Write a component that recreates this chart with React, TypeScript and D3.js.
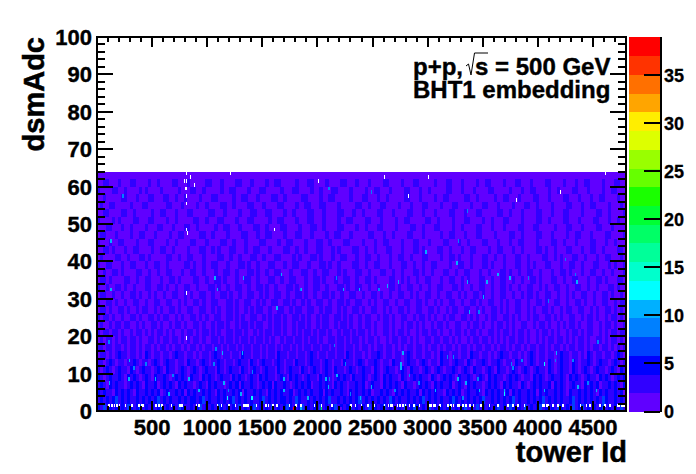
import React from "react";
import * as d3 from "d3";

const xTicks = [500, 1000, 1500, 2000, 2500, 3000, 3500, 4000, 4500];
const yTicks = [0, 10, 20, 30, 40, 50, 60, 70, 80, 90, 100];
const zTicks = [0, 5, 10, 15, 20, 25, 30, 35];
const palette = ["#6000ff", "#3000ff", "#0000ff", "#0040ff", "#0080ff", "#00b0ff", "#00ffff", "#00ffcc", "#00ff99", "#00ff66", "#00ff33", "#1aff00", "#66ff00", "#99ff00", "#ddff00", "#ffee00", "#ffa500", "#ff7000", "#ff3300", "#ff0000"];

// Estimated colour level per narrow tower block x 2-adc band, adc 62-63 at the top, adc 2-3 at the bottom
const blocks = [
"00110001000110000100100001100010000011000100001100010000100110000010001100001000011000100010000110000100011000001000110001000010011000010001100010000110000100010011000010001100001000110001",
"10000110010000101000010000010001100100000100110000100011000001000110000100100011000010000100110001000011000100100000110001000100001100000100010011000010010000110001000010011000100001000110",
"00100000110001000110001100100100001000110000010011000100001100100000110000100110000010001100010010000011000100001001100000110010000010011000100001100010000110001000100110000100001100010000",
"01001100000100011000000110001000010010000110010000110001000011000010011000110000100000110010001100001000100011000010001100001000110001000010001100100001000011000100110000100010000110001001",
"00110000110010000010011000100011000001100010000100011000110000100100001100010000110001001000011000100001100010001000011000100011000001100100010000110001000110000100001100100001100010000110",
"10000101000011000110000100100000110010001100001000110000010011000010001100010000100110000110001000010011000001100100001000110000100100011000010000110010000110001000011000100100001100001000",
"00011000100100001000110001000110010000010011000100001100100001100001000110010000110000100100011000010000110010001100001001000011000100010000110001100000100011000100001100010000100110010000",
"01100010000100110001000010011000001100100001000011000100110000100011000100001001100010000011000100100001100010000010011000100011000010000110010000110001000010011000100001100001001000011000",
"10001001100001000110000100100001100010000110010001000011000010011000010001100100001100001000100110000100011000100001100010010000110001000100110000100001100100010000110001001000011000100110",
"00110100010011000010011001000010001100101000110001001100010000110010010001100010100001100100100011000100011010000110010001001100001001100010010000110100100011000100110010000110010001100100",
"01000011001000110100000110010011000100001100100100011001000110000101000110100010011000100110010001001100100011000010011010001000110010010001100100001100101000110010001001100010010011001000",
"10011000100110001001100100000110100100110001000110100100011000100110001000110100100001100100110001000110010010011000010011001000110100010001100101000110001001100100011000101001100100010011",
"00100110100001100100100110001001100100010011001000110100100110001000110010011000101000110010001100100100011010010001100100110001001000110100100110010001001101000100110010010001100100110100",
"01101000011001001100010011010000110010011010001001100100011001001100010011010001001100100110100001100101001001100010011001010001100100110010010011010001100100110001001101000110010011000110",
"10010011010010001100110100100110010001101001001100100110100100011010010011001000110100110010010001101001100100100110001101001001100100110100100110010100110010011001001000110100110010011001",
"01100100100110100101001001100101001100100110100100110010100110010011010010011010010011001001101001001100101001100100110010100110100100110010010110100110010010100110010011010010100110010100",
"10011010010011001001100110010100110100110001101001100101001100110100101001100100110100110010100110010011001101001010011001001101001100101001100100110100110010011010010011001011001001101001",
"01101001101001011001010011010011001100101001101001010110010011001011001100101100101001101001100101001101001100110100101100110010100110101001100101001101001011001100101001101010011001010110",
"10110100100110100110101100101001101010011001101010011001010110100110101001011001101010010110010110100110010110101001011001101010010110011010100101100110101001100101101001011010011010100101",
"01001011011001010011010010110100110100101101001011010110010110100101101001011001011010010110100110100101101010010110100110010110100101101010011001011010010101101001100101101001011010010110",
"10110110100101101010110101001011010110101001101101001010110110100101011010110100101101011010100110101101001011011010010110101101001101011010110100101101010010110101100101011011010010110101",
"01011010110110100110101101101010110100110101101011010110101001011011010110100110110101101011010010110110101001101101101010010110110101010110110100101011011010101101001101011010110101101010",
"11011011010110101101011010110101101011011010110101101101011010110101011011011010110110101101011011010101101101011010110101101011011010110101101011011010110101101101011011010101101011011010",
"01101012110110102101101101211011010110121011011021101101011021101101101210110110110210110101121011011012101101101021101101102110110101211011010121011011012110110102101101101210110110211011",
"11012101101121011012101211011021101210112101101211021012110121011021101211012101102110121011210110211012110121011021101211021011210112101102110121011021012110210112101211012101121011021012",
"10121012110210121101210211012101210121102101211021012101211021012110210121012102110121012110210121101210211012101210112101210211012102110121012101211021012110210121012110121021101210211012",
"21012112102121012102112101212102110212101211021210121021211012102121012110212101212102112101210212110210121211021012121021121012102121101212101102121012112102121012110212101212102110212101",
"12102121101212102112012121021211012102121101212021121012120211210121212011212102121011212012110212121021101212102121120121021211012121021211021012121120212101211021212011212102121101202112",
"21211021212102112121201211212021211212102121121202112121021212112012121211202121121021212120112121021212112021212110212120121121021212112021211212021211212102112121210212112120212112102121",
"12121231212112121212312121121212212312112121231212121123121212212132112121212311212121231212121213212112121231212121123212121212311212121231211212123121212112312121212132112121212312112121",
"21312121213212312121231212132112123121213212121312123121213121232112312121312123121231212131212312112131232121312121231212312131212123121321213121231212132121312312121231212131212321213121"
].map((r) => r.slice(0, 176));

// Individually read cells: tower, adc, colour level
const hotTowers = [288, 327, 106, 282, 439, 524, 682, 827, 645, 918, 1070, 1130, 1312, 1055, 1145, 1176, 1185, 1297, 1397, 1403, 100, 1628, 1846, 2230, 2376, 2549, 1688, 1688, 2073, 2103, 2170, 2149, 2094, 2246, 2482, 2294, 2385, 2770, 2749, 2749, 2830, 2915, 3064, 3173, 1906, 2694, 3500, 3373, 3458, 4091, 4161, 4055, 4055, 4312, 3848, 3752, 3267, 3449, 3691, 3691, 3342, 3464, 4358, 4524, 4539, 3312, 4449, 3767, 3227, 4154, 121, 121, 1064, 1085, 1321, 1667, 1848, 2166, 2230, 2373, 227, 2100, 2485, 2627, 2548, 2727, 2976, 3354, 3530, 3630, 3742, 3258, 3909, 4333, 4348, 3354, 3273, 4242];
const hotAdc = [13, 11, 7, 8, 12, 8, 9, 8, 4, 5, 16, 15, 15, 12, 7, 3, 5, 4, 3, 10, 18, 27, 32, 32, 32, 32, 8, 5, 8, 8, 9, 17, 6, 12, 6, 4, 3, 15, 12, 11, 9, 7, 5, 14, 3, 5, 30, 26, 26, 29, 15, 12, 5, 13, 13, 12, 8, 8, 4, 5, 7, 5, 6, 5, 18, 3, 7, 11, 14, 13, 45, 32, 35, 32, 35, 36, 32, 35, 32, 32, 57, 59, 58, 33, 32, 34, 42, 34, 34, 36, 35, 39, 35, 36, 34, 53, 45, 40];
const hotLevel = [5, 4, 5, 5, 4, 5, 4, 5, 5, 5, 4, 5, 5, 4, 5, 6, 4, 5, 6, 4, 4, 5, 4, 4, 4, 4, 5, 5, 5, 4, 5, 4, 5, 4, 5, 4, 5, 5, 5, 5, 4, 4, 5, 4, 5, 4, 5, 5, 4, 4, 5, 6, 5, 4, 4, 4, 5, 4, 6, 5, 5, 5, 5, 5, 4, 4, 4, 4, 4, 4, 5, 5, 5, 5, 5, 5, 5, 4, 5, 5, 4, 4, 4, 5, 4, 5, 5, 5, 5, 5, 5, 5, 4, 4, 5, 4, 4, 4];

// Empty cells above the bottom rows
const holeTowers = [812, 1203, 848, 785, 812, 2003, 876, 800, 812, 812, 812, 812, 1606, 821, 812, 812, 2603, 3003, 4612, 2824, 4197, 3803];
const holeAdc = [63, 63, 62, 61, 61, 61, 60, 59, 59, 57, 55, 48, 48, 47, 31, 19, 62, 62, 63, 57, 58, 56];

// Empty towers in the adc 1 row
const adcOneGaps = [103, 127, 151, 176, 197, 251, 312, 373, 397, 412, 530, 554, 585, 670, 742, 754, 766, 894, 918, 1085, 1124, 1191, 1251, 1327, 1339, 1351, 1363, 1439, 1524, 1548, 1588, 1628, 1740, 1800, 1846, 1967, 2028, 2127, 2300, 2337, 2391, 2452, 2512, 2603, 2640, 2655, 2670, 2718, 2740, 2770, 2791, 2830, 2867, 2921, 3000, 3015, 3030, 3045, 3060, 3103, 3179, 3206, 3227, 3270, 3282, 3312, 3343, 3379, 3409, 3479, 3555, 3630, 3721, 3767, 3812, 3873, 4039, 4054, 4070, 4085, 4130, 4176, 4221, 4379, 4433, 4464, 4555, 4600, 4646, 4721, 4736, 4751, 4766, 4781];

// Rare filled cells in the adc 0 row
const adcZeroTowers = [1775, 1846, 2028, 2209, 2997];
const adcZeroLevels = [19, 5, 10, 0, 3];

const x = d3.scaleLinear().domain([0, 4800]).range([97, 626]);
const y = d3.scaleLinear().domain([0, 100]).range([411, 37]);
const z = d3.scaleLinear().domain([0, 39]).range([411.5, 37]);
const blockTowers = 4800 / 176;
const FONT = "'Liberation Sans', Arial, sans-serif";
const xMinor = d3.range(0, 4800, 100);
const yMinor = d3.range(0, 100, 2);

export default function App() {
  return (
    <svg width={696} height={474} style={{ position: "absolute", left: 0, top: 0, background: "#fff" }} fontFamily={FONT} fontWeight="bold" fill="#000">
      <g shapeRendering="crispEdges">
        <rect x={x(0) + 1} y={y(64)} width={x(4800) - x(0) - 2} height={y(1) - y(64)} fill={palette[0]} />
        {blocks.map((row, r) =>
          row.split("").map((c, i) =>
            c === "0" ? null : (
              <rect key={`${r}-${i}`} x={x(i * blockTowers)} y={y(64 - (r + 1) * 2)} width={x(blockTowers) - x(0) + 0.3} height={y(0) - y(2)} fill={palette[+c]} />
            )
          )
        )}
        {hotTowers.map((t, i) => (
          <rect key={`h${i}`} x={x(t)} y={y(hotAdc[i] + 1)} width={1.6} height={y(0) - y(1)} fill={palette[hotLevel[i]]} />
        ))}
        {holeTowers.map((t, i) => (
          <rect key={`w${i}`} x={x(t)} y={y(holeAdc[i] + 1)} width={1} height={y(0) - y(1)} fill="#fff" />
        ))}
        {adcOneGaps.map((t) => (
          <rect key={`g${t}`} x={x(t)} y={y(2)} width={x(14) - x(0)} height={y(0) - y(1)} fill="#fff" />
        ))}
        {adcZeroTowers.map((t, i) => (
          <rect key={`a${t}`} x={x(t)} y={y(1)} width={1.2} height={y(0) - y(1)} fill={palette[adcZeroLevels[i]]} />
        ))}
        {palette.map((c, i) => (
          <rect key={c} x={629} y={z(((i + 1) * 39) / 20)} width={31} height={z(0) - z(39 / 20) + 0.5} fill={c} />
        ))}
      </g>

      <g stroke="#000" strokeWidth={2} shapeRendering="crispEdges">
        <rect x={x(0)} y={y(100)} width={x(4800) - x(0)} height={y(0) - y(100)} fill="none" />
        {xMinor.map((t) => {
          const len = t % 500 === 0 ? 10 : 5;
          return (
            <g key={t}>
              <line x1={x(t)} x2={x(t)} y1={y(0)} y2={y(0) - len} />
              <line x1={x(t)} x2={x(t)} y1={y(100)} y2={y(100) + len} />
            </g>
          );
        })}
        {yMinor.map((t) => {
          const len = t % 10 === 0 ? 16 : 8;
          return (
            <g key={t}>
              <line x1={x(0)} x2={x(0) + len} y1={y(t)} y2={y(t)} />
              <line x1={x(4800)} x2={x(4800) - len} y1={y(t)} y2={y(t)} />
            </g>
          );
        })}
        <line x1={660.5} x2={660.5} y1={37} y2={412} />
        {zTicks.map((t) => (
          <line key={t} x1={644} x2={660} y1={z(t)} y2={z(t)} />
        ))}
      </g>

      <g fontSize={22} stroke="#000" strokeWidth={0.4}>
        {xTicks.map((t) => (
          <text key={t} x={x(t)} y={435} textAnchor="middle">{t}</text>
        ))}
        {yTicks.map((t) => (
          <text key={t} x={92} y={y(t) + 8} textAnchor="end">{t}</text>
        ))}
      </g>
      <g fontSize={18} stroke="#000" strokeWidth={0.3}>
        {zTicks.map((t) => (
          <text key={t} x={664} y={z(t) + 6.5}>{t}</text>
        ))}
      </g>

      <g stroke="#000" strokeWidth={0.5}>
        <text x={627} y={462} fontSize={29} textAnchor="end">tower Id</text>
        <text transform="translate(44,37) rotate(-90)" fontSize={29} textAnchor="end">dsmAdc</text>
      </g>

      <g fontSize={24} stroke="#000" strokeWidth={0.4}>
        <text x={413} y={75}>p+p,</text>
        <text x={475} y={75}>s = 500 GeV</text>
        <text x={413} y={98}>BHT1 embedding</text>
      </g>
      <path d="M466 66 L468.5 64 L471 75 L474.5 53 L488 53" fill="none" stroke="#000" strokeWidth={1} />
    </svg>
  );
}
